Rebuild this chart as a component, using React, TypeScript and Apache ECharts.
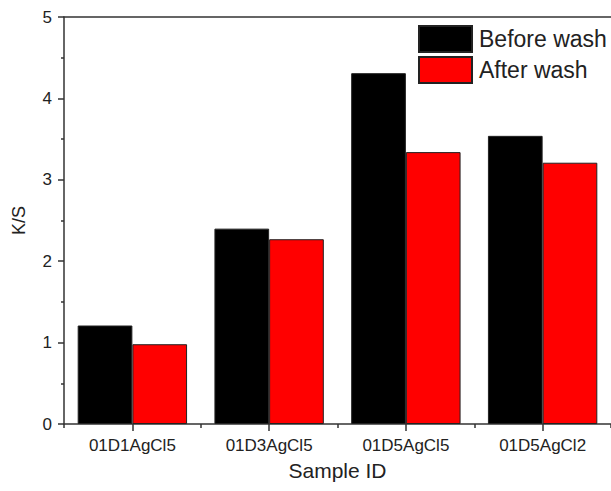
import React, { useEffect, useRef } from "react";
import * as echarts from "echarts";

const categories = ["01D1AgCl5", "01D3AgCl5", "01D5AgCl5", "01D5AgCl2"];
const beforeWash = [1.21, 2.4, 4.31, 3.54];
const afterWash = [0.98, 2.27, 3.34, 3.21];
const seriesNames = ["Before wash", "After wash"];

export default function App() {
  const ref = useRef<HTMLDivElement>(null);
  useEffect(() => {
    if (!ref.current) return;
    const chart = echarts.init(ref.current, null, { renderer: "svg" });
    const font = "Liberation Sans, Arial, sans-serif";
    const axisColor = "#333";
    chart.setOption({
      animation: false,
      backgroundColor: "#fff",
      textStyle: { fontFamily: font },
      legend: {
        left: 418,
        top: 25,
        padding: 0,
        orient: "vertical",
        itemWidth: 53,
        itemHeight: 26,
        itemGap: 3,
        icon: "rect",
        textStyle: { fontSize: 23, color: "#222", fontFamily: font, padding: [0, 0, 0, 2] },
        data: seriesNames,
      },
      grid: { left: 64, right: 0, top: 17, bottom: 67 },
      xAxis: [
        {
          type: "category",
          data: categories,
          axisLine: { lineStyle: { color: axisColor, width: 1.5 } },
          axisTick: { show: true, alignWithLabel: true, length: 7, lineStyle: { color: axisColor, width: 1.5 } },
          axisLabel: { fontSize: 17, color: "#222", margin: 13 },
          name: "Sample ID",
          nameLocation: "middle",
          nameGap: 36,
          nameTextStyle: { fontSize: 21, color: "#222" },
        },
        {
          type: "category",
          data: categories,
          position: "bottom",
          axisLine: { show: false },
          axisTick: { show: true, length: 4, lineStyle: { color: axisColor, width: 1.5 } },
          axisLabel: { show: false },
        },
        {
          type: "category",
          data: categories,
          position: "top",
          axisLine: { show: true, lineStyle: { color: axisColor, width: 1.5 } },
          axisTick: { show: false },
          axisLabel: { show: false },
        },
      ],
      yAxis: {
        type: "value",
        min: 0,
        max: 5,
        interval: 1,
        axisLine: { show: true, lineStyle: { color: axisColor, width: 1.5 } },
        axisTick: { show: true, length: 6, lineStyle: { color: axisColor, width: 1.5 } },
        minorTick: { show: true, splitNumber: 2, length: 3, lineStyle: { color: axisColor, width: 1.5 } },
        splitLine: { show: false },
        axisLabel: { fontSize: 17, color: "#222", margin: 12 },
        name: "K/S",
        nameLocation: "middle",
        nameGap: 36,
        nameTextStyle: { fontSize: 18, color: "#222" },
      },
      series: [
        {
          name: seriesNames[0],
          type: "bar",
          data: beforeWash,
          barWidth: "40%",
          barGap: "0%",
          itemStyle: { color: "#000", borderColor: "#222", borderWidth: 1 },
        },
        {
          name: seriesNames[1],
          type: "bar",
          data: afterWash,
          barWidth: "40%",
          barGap: "0%",
          itemStyle: { color: "#ff0000", borderColor: "#222", borderWidth: 1 },
        },
      ],
    });
    return () => chart.dispose();
  }, []);
  return (
    <div
      ref={ref}
      style={{ position: "fixed", left: 0, top: 0, width: 611, height: 491 }}
    />
  );
}
